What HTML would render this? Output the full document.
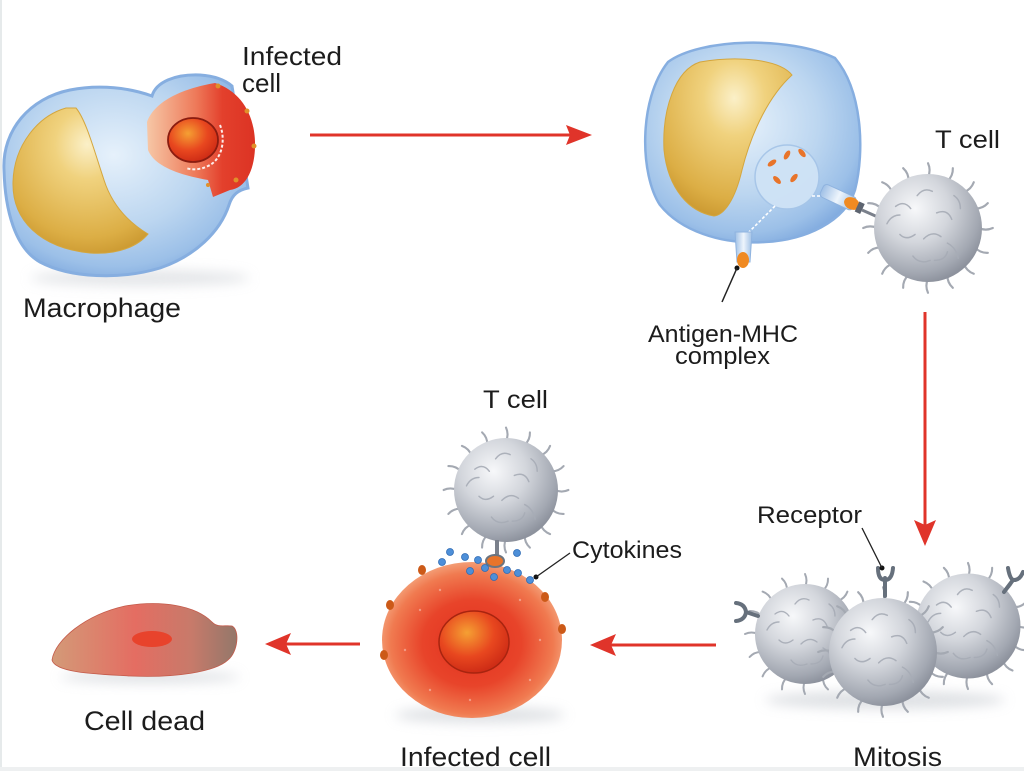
<!DOCTYPE html>
<html><head><meta charset="utf-8"><style>
html,body{margin:0;padding:0;background:#fff;}
svg{display:block;}
text{font-family:"Liberation Sans",Arial,sans-serif;fill:#1c1c1c;}
</style></head><body>
<svg width="1024" height="771" viewBox="0 0 1024 771" xmlns="http://www.w3.org/2000/svg">
<defs>
  <radialGradient id="blue" cx="45%" cy="40%" r="65%">
    <stop offset="0" stop-color="#e6f1fb"/>
    <stop offset="0.55" stop-color="#bcd6f0"/>
    <stop offset="0.85" stop-color="#9cc0e8"/>
    <stop offset="1" stop-color="#7fa9de"/>
  </radialGradient>
  <radialGradient id="yel" cx="55%" cy="25%" r="80%">
    <stop offset="0" stop-color="#fbf0c8"/>
    <stop offset="0.3" stop-color="#f0d27e"/>
    <stop offset="0.8" stop-color="#dcae45"/>
    <stop offset="1" stop-color="#c9962e"/>
  </radialGradient>
  <linearGradient id="redcell" x1="0" y1="0" x2="1" y2="0">
    <stop offset="0" stop-color="#f6c7a6"/>
    <stop offset="0.45" stop-color="#ee7a5a"/>
    <stop offset="0.7" stop-color="#e3402c"/>
    <stop offset="1" stop-color="#dc3324"/>
  </linearGradient>
  <radialGradient id="nuc" cx="40%" cy="35%" r="65%">
    <stop offset="0" stop-color="#f5a033"/>
    <stop offset="0.6" stop-color="#e8471f"/>
    <stop offset="1" stop-color="#cf2d16"/>
  </radialGradient>
  <radialGradient id="inf" cx="50%" cy="52%" r="55%">
    <stop offset="0" stop-color="#e2301e"/>
    <stop offset="0.5" stop-color="#e8442a"/>
    <stop offset="0.82" stop-color="#f07a50"/>
    <stop offset="1" stop-color="#f5ad86"/>
  </radialGradient>
  <radialGradient id="tc" cx="38%" cy="32%" r="70%">
    <stop offset="0" stop-color="#f7f8fa"/>
    <stop offset="0.45" stop-color="#d3d6dc"/>
    <stop offset="0.85" stop-color="#a3a8b2"/>
    <stop offset="1" stop-color="#8d929d"/>
  </radialGradient>
  <linearGradient id="dead" x1="0" y1="0" x2="1" y2="0">
    <stop offset="0" stop-color="#d39a78"/>
    <stop offset="0.45" stop-color="#e46d62"/>
    <stop offset="0.75" stop-color="#c87a6a"/>
    <stop offset="1" stop-color="#93776a"/>
  </linearGradient>
  <linearGradient id="stalk" x1="0" y1="0" x2="1" y2="0">
    <stop offset="0" stop-color="#9fc0e6"/>
    <stop offset="0.5" stop-color="#eef5fc"/>
    <stop offset="1" stop-color="#9fc0e6"/>
  </linearGradient>
  <filter id="blur" x="-30%" y="-100%" width="160%" height="300%"><feGaussianBlur stdDeviation="6"/></filter>
  <g id="tcell">
    <g stroke="#a4a9b2" stroke-width="2" fill="none" stroke-linecap="round">
      <path d="M47,0 Q53.5,3 60,0"/>
      <path d="M43.4,18 Q48.3,23.3 55.4,23"/>
      <path d="M33.2,33.2 Q35.7,39.9 42.4,42.4"/>
      <path d="M18,43.4 Q17.7,50.6 23,55.4"/>
      <path d="M0,47 Q-3,53.5 0,60"/>
      <path d="M-18,43.4 Q-23.3,48.3 -23,55.4"/>
      <path d="M-33.2,33.2 Q-39.9,35.7 -42.4,42.4"/>
      <path d="M-43.4,18 Q-50.6,17.7 -55.4,23"/>
      <path d="M-47,0 Q-53.5,-3 -60,0"/>
      <path d="M-43.4,-18 Q-48.3,-23.3 -55.4,-23"/>
      <path d="M-33.2,-33.2 Q-35.7,-39.9 -42.4,-42.4"/>
      <path d="M-18,-43.4 Q-17.7,-50.6 -23,-55.4"/>
      <path d="M0,-47 Q3,-53.5 0,-60"/>
      <path d="M18,-43.4 Q23.3,-48.3 23,-55.4"/>
      <path d="M33.2,-33.2 Q39.9,-35.7 42.4,-42.4"/>
      <path d="M43.4,-18 Q50.6,-17.7 55.4,-23"/>
    </g>
    <circle r="50" fill="url(#tc)"/>
    <g stroke="#a7acb6" stroke-width="1.4" fill="none" stroke-linecap="round" opacity="0.9">
      <path d="M-30,-20 q8,-6 14,2"/>
      <path d="M-10,-30 q6,-8 14,-4"/>
      <path d="M8,-14 q10,-4 14,6"/>
      <path d="M-26,6 q6,6 14,0"/>
      <path d="M-4,10 q8,-8 16,-2"/>
      <path d="M18,14 q8,4 10,14"/>
      <path d="M-14,26 q6,8 16,4"/>
      <path d="M24,-30 q6,4 6,12"/>
      <path d="M-38,-4 q4,-8 12,-8"/>
      <path d="M6,30 q10,0 12,-8"/>
    </g>
  </g>
</defs>

<rect x="0" y="0" width="1024" height="771" fill="#fff"/>
<rect x="0" y="0" width="2" height="771" fill="#e6eaeb"/>
<rect x="0" y="767" width="1024" height="4" fill="#eef0f1"/>

<!-- shadows -->
<ellipse cx="140" cy="278" rx="110" ry="8" fill="#c8ccd2" opacity="0.5" filter="url(#blur)"/>
<ellipse cx="480" cy="715" rx="85" ry="8" fill="#c8ccd2" opacity="0.6" filter="url(#blur)"/>
<ellipse cx="885" cy="700" rx="120" ry="9" fill="#c8ccd2" opacity="0.6" filter="url(#blur)"/>
<ellipse cx="150" cy="677" rx="90" ry="6" fill="#c8ccd2" opacity="0.6" filter="url(#blur)"/>

<!-- LEFT MACROPHAGE -->
<path d="M4,170 C2,130 30,98 70,90 C100,84 130,88 152,96 C156,82 175,74 200,75 C215,76 225,80 232,86 L248,188 C238,190 232,195 229,205 C220,232 195,256 160,268 C120,280 70,278 40,262 C15,248 5,210 4,170 Z" fill="url(#blue)" stroke="#86aee0" stroke-width="3"/>
<path d="M66,108 C38,116 14,145 13,182 C12,220 40,248 90,253 C118,255 138,246 148,234 C128,222 112,205 104,180 C94,150 86,120 76,108 Z" fill="url(#yel)" stroke="#d4a63e" stroke-width="1"/>
<path d="M147,122 C155,100 185,88 215,83 C243,92 256,118 255,148 C254,172 245,188 230,190 L213,197 L208,180 C185,176 155,168 148,150 Z" fill="url(#redcell)"/>
<g fill="#e0902a">
  <circle cx="218" cy="86" r="2.5"/><circle cx="247" cy="111" r="2.5"/><circle cx="254" cy="146" r="2.5"/><circle cx="236" cy="180" r="2.5"/><circle cx="208" cy="185" r="2"/>
</g>
<ellipse cx="193" cy="140" rx="25" ry="22" fill="url(#nuc)" stroke="#8a1c10" stroke-width="1.8"/>
<path d="M220,125 C226,140 222,160 208,166 C200,170 192,170 186,168" fill="none" stroke="#fff" stroke-width="2" stroke-dasharray="3 2" opacity="0.9"/>

<!-- TOP RIGHT MACROPHAGE -->
<path d="M668,62 C700,38 790,36 835,58 C862,90 865,150 855,190 C845,222 805,240 765,242 C720,245 680,230 660,205 C640,175 638,100 668,62 Z" fill="url(#blue)" stroke="#86aee0" stroke-width="2.5"/>
<path d="M700,62 C740,55 780,60 792,75 C770,95 752,130 742,170 C735,200 724,215 714,216 C690,212 668,190 664,150 C662,110 675,70 700,62 Z" fill="url(#yel)" stroke="#d4a63e" stroke-width="1"/>
<circle cx="787" cy="177" r="32" fill="#cfe3f6" stroke="#a6c5e8" stroke-width="1.5" opacity="0.95"/>
<g fill="#e8742a">
  <ellipse cx="772" cy="163" rx="5" ry="2.5" transform="rotate(-35 772 163)"/>
  <ellipse cx="787" cy="155" rx="5" ry="2.5" transform="rotate(-60 787 155)"/>
  <ellipse cx="802" cy="153" rx="5" ry="2.5" transform="rotate(50 802 153)"/>
  <ellipse cx="777" cy="180" rx="5" ry="2.5" transform="rotate(45 777 180)"/>
  <ellipse cx="794" cy="178" rx="5" ry="2.5" transform="rotate(-50 794 178)"/>
</g>
<path d="M775,206 L745,236 M812,196 L830,196" stroke="#fff" stroke-width="1.6" stroke-dasharray="3 2"/>
<!-- bottom stalk -->
<path d="M735,232 L752,232 L750,262 L737,262 Z" fill="url(#stalk)" stroke="#8fb3df" stroke-width="1"/>
<ellipse cx="743" cy="260" rx="6" ry="8" fill="#f08a22"/>
<circle cx="737" cy="268" r="2.5" fill="#111"/>
<line x1="737" y1="268" x2="722" y2="302" stroke="#222" stroke-width="1.5"/>
<!-- right stalk -->
<g transform="rotate(25 840 198)">
  <rect x="820" y="191" width="36" height="14" rx="4" fill="url(#stalk)" stroke="#8fb3df" stroke-width="1"/>
  <ellipse cx="853" cy="198" rx="8" ry="6" fill="#f08a22"/>
  <rect x="859" y="193" width="6" height="11" fill="#5d6470"/>
</g>
<line x1="862" y1="210" x2="880" y2="218" stroke="#7a808b" stroke-width="3"/>

<!-- T cell top right -->
<use href="#tcell" transform="translate(928 228) scale(1.08)"/>

<!-- Middle T cell -->
<use href="#tcell" transform="translate(506 490) scale(1.04)"/>
<line x1="497" y1="540" x2="497" y2="560" stroke="#7a808b" stroke-width="4"/>

<!-- infected cell bottom -->
<ellipse cx="472" cy="640" rx="90" ry="78" fill="url(#inf)"/>
<g fill="#fff" opacity="0.35">
  <circle cx="420" cy="610" r="1.2"/><circle cx="440" cy="590" r="1.2"/><circle cx="520" cy="600" r="1.2"/><circle cx="530" cy="680" r="1.2"/><circle cx="430" cy="690" r="1.2"/><circle cx="405" cy="650" r="1.2"/><circle cx="540" cy="640" r="1.2"/><circle cx="470" cy="700" r="1.2"/>
</g>
<ellipse cx="474" cy="642" rx="35" ry="31" fill="url(#nuc)" stroke="#a8240f" stroke-width="1.5"/>
<g fill="#cc5a18">
  <ellipse cx="422" cy="570" rx="4" ry="5"/><ellipse cx="390" cy="605" rx="4" ry="5"/><ellipse cx="384" cy="655" rx="4" ry="5"/><ellipse cx="545" cy="597" rx="4" ry="5"/><ellipse cx="562" cy="629" rx="4" ry="5"/>
</g>
<ellipse cx="495" cy="561" rx="9" ry="6" fill="#e8742a" stroke="#6b7480" stroke-width="2"/>
<g fill="#4d8fd8" stroke="#2e6bb5" stroke-width="0.8">
  <circle cx="450" cy="552" r="3.5"/><circle cx="442" cy="562" r="3.5"/><circle cx="465" cy="557" r="3.5"/><circle cx="478" cy="560" r="3.5"/><circle cx="470" cy="571" r="3.5"/><circle cx="494" cy="577" r="3.5"/><circle cx="507" cy="570" r="3.5"/><circle cx="517" cy="553" r="3.5"/><circle cx="518" cy="573" r="3.5"/><circle cx="530" cy="580" r="3.5"/><circle cx="485" cy="568" r="3.5"/>
</g>
<circle cx="536" cy="577" r="2.5" fill="#111"/>
<line x1="536" y1="577" x2="570" y2="553" stroke="#222" stroke-width="1.3"/>

<!-- Mitosis cells -->
<use href="#tcell" transform="translate(805 634) scale(1.0)"/>
<use href="#tcell" transform="translate(968 626) scale(1.05)"/>
<use href="#tcell" transform="translate(883 652) scale(1.08)"/>
<!-- receptors -->
<g stroke="#66707c" fill="none" stroke-linecap="round">
  <line x1="885" y1="596" x2="885" y2="578" stroke-width="4"/>
  <path d="M878,568 Q878,580 885,580 Q892,580 893,568" stroke-width="4"/>
  <line x1="758" y1="616" x2="746" y2="612" stroke-width="4"/>
  <path d="M736,603 Q745,604 746,612 Q745,620 736,621" stroke-width="4"/>
  <line x1="1004" y1="592" x2="1013" y2="580" stroke-width="4"/>
  <path d="M1008,568 Q1010,580 1014,580 Q1020,580 1023,572" stroke-width="4"/>
</g>
<circle cx="882" cy="568" r="2.5" fill="#111"/>
<line x1="862" y1="528" x2="882" y2="568" stroke="#222" stroke-width="1.3"/>

<!-- dead cell -->
<path d="M52,660 C55,640 85,615 125,606 C160,600 195,605 212,622 C218,628 224,625 232,626 C240,630 238,652 228,660 C215,672 175,678 130,676 C90,674 55,672 52,660 Z" fill="url(#dead)" stroke="#c45a4a" stroke-width="0.8"/>
<ellipse cx="152" cy="639" rx="20" ry="8" fill="#e8432c"/>

<!-- arrows -->
<g stroke="#e0342a" stroke-width="3" fill="#e0342a">
  <line x1="310" y1="135" x2="570" y2="135"/>
  <path d="M592,135 L566,125 L570,135 L566,145 Z" stroke="none"/>
  <line x1="925" y1="312" x2="925" y2="525"/>
  <path d="M925,546 L914,520 L925,525 L936,520 Z" stroke="none"/>
  <line x1="716" y1="645" x2="610" y2="645"/>
  <path d="M590,645 L616,634 L611,645 L616,656 Z" stroke="none"/>
  <line x1="360" y1="644" x2="285" y2="644"/>
  <path d="M265,644 L291,633 L286,644 L291,655 Z" stroke="none"/>
</g>

<!-- labels -->
<text x="242" y="65" font-size="26" textLength="100" lengthAdjust="spacingAndGlyphs">Infected</text>
<text x="242" y="92" font-size="26">cell</text>
<text x="23" y="317" font-size="27" textLength="158" lengthAdjust="spacingAndGlyphs">Macrophage</text>
<text x="935" y="148" font-size="25" textLength="65" lengthAdjust="spacingAndGlyphs">T cell</text>
<text x="648" y="342" font-size="24" textLength="150" lengthAdjust="spacingAndGlyphs">Antigen-MHC</text>
<text x="675" y="364" font-size="24" textLength="95" lengthAdjust="spacingAndGlyphs">complex</text>
<text x="483" y="408" font-size="25" textLength="65" lengthAdjust="spacingAndGlyphs">T cell</text>
<text x="572" y="558" font-size="24" textLength="110" lengthAdjust="spacingAndGlyphs">Cytokines</text>
<text x="757" y="523" font-size="24" textLength="105" lengthAdjust="spacingAndGlyphs">Receptor</text>
<text x="853" y="766" font-size="27" textLength="89" lengthAdjust="spacingAndGlyphs">Mitosis</text>
<text x="400" y="766" font-size="27" textLength="151" lengthAdjust="spacingAndGlyphs">Infected cell</text>
<text x="84" y="730" font-size="27" textLength="121" lengthAdjust="spacingAndGlyphs">Cell dead</text>
</svg>
</body></html>
